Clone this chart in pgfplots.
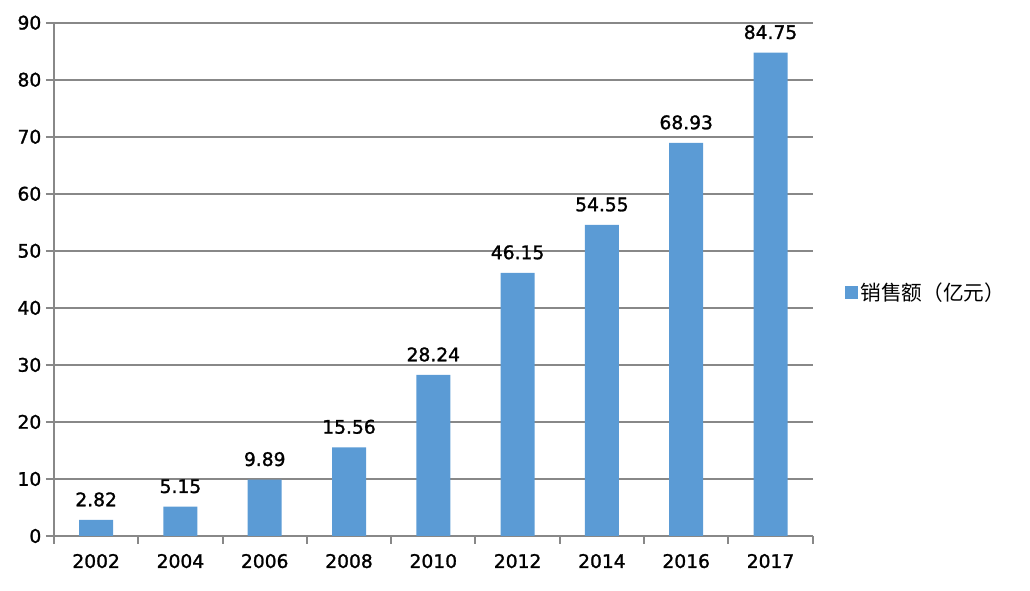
\documentclass[border=0pt]{standalone}
\usepackage{pgfplots}
\pgfplotsset{compat=1.18}
\usepackage{fontspec}
\setmainfont{DejaVu Sans}[FakeBold=1.2]
\newfontfamily\lbl{DejaVu Sans}[FakeBold=1.4]
\newfontfamily\cjk{Noto Sans CJK SC}
\definecolor{barblue}{HTML}{5B9BD5}
\definecolor{gridgray}{HTML}{888888}
\begin{document}
\begin{tikzpicture}[x=0.75pt,y=0.75pt]
\useasboundingbox (-54,-55) rectangle (976,536);
\begin{axis}[
  at={(0,0)}, anchor=south west,
  scale only axis,
  width=569pt, height=385pt,
  xmin=-0.5, xmax=8.5,
  ymin=0, ymax=90,
  ytick={0,10,...,90},
  xtick={0,...,8},
  xticklabels={2002,2004,2006,2008,2010,2012,2014,2016,2017},
  minor xtick={-0.5,0.5,...,8.5},
  axis lines*=left,
  axis line style={gridgray, line width=1.5pt},
  ymajorgrids,
  major grid style={gridgray, line width=1.5pt},
  tick style={gridgray, line width=1.5pt},
  major tick length=6pt,
  minor tick length=6pt,
  xtick style={draw=none},
  minor x tick style={draw=gridgray, line width=1.5pt},
  tick align=outside,
  ticklabel style={font=\lbl\fontsize{14}{16}\selectfont, text=black},
  yticklabel style={xshift=0pt},
  xticklabel style={yshift=-4pt},
  /pgf/number format/assume math mode=true,
  ybar, bar width=25.5pt,
  enlargelimits=false,
  clip=false,
  nodes near coords,
  point meta=explicit symbolic,
  every node near coord/.append style={font=\lbl\fontsize{14}{16}\selectfont, text=black, yshift=6.5pt},
  legend style={at={(1.037,0.474)}, anchor=west, draw=none, fill=none, font=\cjk\fontsize{15.5}{17}\selectfont},
  legend image code/.code={\fill[barblue] (0pt,-4.8pt) rectangle (9.5pt,4.8pt);},
]
\addplot[fill=barblue, draw=none] table[meta=label] {
x y label
0 2.82 2.82
1 5.15 5.15
2 9.89 9.89
3 15.56 15.56
4 28.24 28.24
5 46.15 46.15
6 54.55 54.55
7 68.93 68.93
8 84.75 84.75
};
\addlegendentry{销售额（亿元）}
\end{axis}
\end{tikzpicture}
\end{document}
